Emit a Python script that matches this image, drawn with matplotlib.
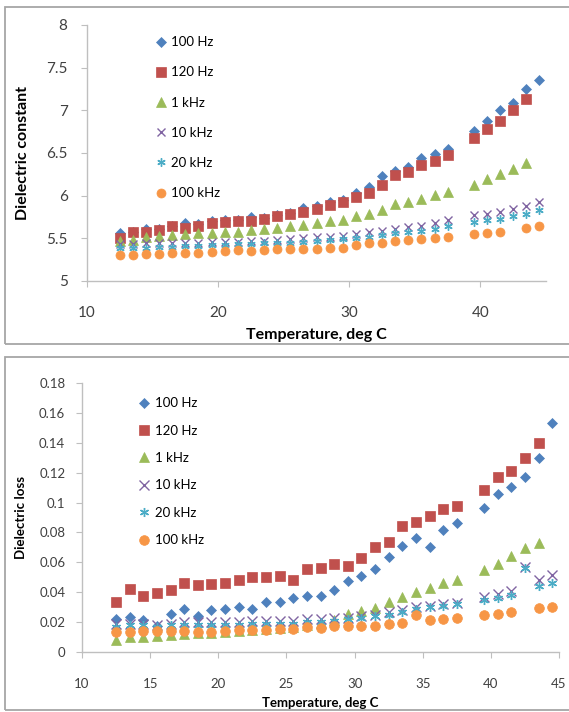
## Dielectric constant and dielectric loss vs temperature at several frequencies
import numpy as np
import matplotlib
matplotlib.use('Agg')
import matplotlib.pyplot as plt
from matplotlib.patches import Rectangle

plt.rcParams['font.family'] = ['Lato', 'DejaVu Sans']

# temperatures (deg C), no reading at 38.5
temps = [12.5, 13.5, 14.5, 15.5, 16.5, 17.5, 18.5, 19.5, 20.5, 21.5, 22.5,
         23.5, 24.5, 25.5, 26.5, 27.5, 28.5, 29.5, 30.5, 31.5, 32.5, 33.5,
         34.5, 35.5, 36.5, 37.5, 39.5, 40.5, 41.5, 42.5, 43.5, 44.5]

labels = ['100 Hz', '120 Hz', '1 kHz', '10 kHz', '20 kHz', '100 kHz']

# dielectric constant
eps_100hz = [5.56, 5.58, 5.61, 5.61, 5.64, 5.68, 5.67, 5.70, 5.71, 5.72, 5.75,
             5.74, 5.77, 5.80, 5.85, 5.88, 5.92, 5.95, 6.03, 6.10, 6.23, 6.29,
             6.34, 6.44, 6.49, 6.55, 6.76, 6.87, 7.00, 7.09, 7.25, 7.36]
eps_120hz = [5.50, 5.58, 5.57, 5.60, 5.64, 5.62, 5.65, 5.68, 5.69, 5.70, 5.70,
             5.73, 5.76, 5.78, 5.81, 5.84, 5.89, 5.92, 5.98, 6.03, 6.12, 6.24,
             6.28, 6.36, 6.41, 6.48, 6.67, 6.78, 6.88, 7.00, 7.13, None]
eps_1khz = [5.47, 5.48, 5.51, 5.53, 5.54, 5.55, 5.56, 5.56, 5.57, 5.58, 5.60,
            5.61, 5.62, 5.64, 5.66, 5.68, 5.70, 5.72, 5.76, 5.79, 5.83, 5.90,
            5.93, 5.96, 6.01, 6.04, 6.13, 6.20, 6.25, 6.31, 6.38, None]
eps_10khz = [5.43, 5.43, 5.44, 5.44, 5.44, 5.45, 5.45, 5.46, 5.46, 5.46, 5.47,
             5.47, 5.48, 5.49, 5.50, 5.51, 5.52, 5.53, 5.55, 5.57, 5.59, 5.61,
             5.63, 5.65, 5.68, 5.71, 5.77, 5.79, 5.81, 5.84, 5.88, 5.93]
eps_20khz = [5.39, 5.39, 5.39, 5.40, 5.40, 5.41, 5.41, 5.42, 5.42, 5.43, 5.43,
             5.44, 5.45, 5.45, 5.46, 5.47, 5.48, 5.49, 5.50, 5.52, 5.54, 5.56,
             5.58, 5.59, 5.61, 5.64, 5.69, 5.71, 5.73, 5.76, 5.79, 5.83]
eps_100khz = [5.30, 5.31, 5.32, 5.32, 5.33, 5.33, 5.33, 5.34, 5.35, 5.36, 5.355,
              5.36, 5.37, 5.38, 5.38, 5.38, 5.39, 5.39, 5.42, 5.44, 5.45, 5.47,
              5.48, 5.49, 5.50, 5.51, 5.55, 5.56, 5.58, None, 5.62, 5.64]

# dielectric loss
loss_100hz = [0.0221, 0.0232, 0.0214, 0.0175, 0.0252, 0.0288, 0.0243, 0.0281,
              0.0286, 0.0303, 0.0290, 0.0337, 0.0337, 0.0361, 0.0375, 0.0375,
              0.0415, 0.0477, 0.0511, 0.0555, 0.0634, 0.0711, 0.0765, 0.0705,
              0.0816, 0.0865, 0.0961, 0.1055, 0.1102, 0.1173, 0.1296, 0.1535]
loss_120hz = [0.0337, 0.0419, 0.0377, 0.0393, 0.0415, 0.0464, 0.0446, 0.0453,
              0.0460, 0.0482, 0.0502, 0.0500, 0.0509, 0.0482, 0.0558, 0.0562,
              0.0589, 0.0578, 0.0629, 0.0705, 0.0734, 0.0845, 0.0872, 0.0912,
              0.0957, 0.0977, 0.1086, 0.1173, 0.1211, 0.1298, 0.1397, None]
loss_1khz = [0.0080, 0.0098, 0.0103, 0.0109, 0.0114, 0.0120, 0.0125, 0.0130,
             0.0136, 0.0140, 0.0147, 0.0154, 0.0160, 0.0170, 0.0180, 0.0195,
             0.0215, 0.0254, 0.0276, 0.0292, 0.0337, 0.0370, 0.0399, 0.0426,
             0.0460, 0.0482, 0.0549, 0.0587, 0.0642, 0.0694, 0.0731, None]
loss_10khz = [0.019, 0.019, 0.019, 0.018, 0.019, 0.020, 0.020, 0.020, 0.020,
              0.020, 0.021, 0.021, 0.021, 0.021, 0.022, 0.022, 0.023, 0.023,
              0.024, 0.025, 0.027, 0.028, 0.030, 0.031, 0.032, 0.033, 0.037,
              0.0385, 0.041, 0.057, 0.048, 0.0515]
loss_20khz = [0.017, 0.018, 0.018, 0.017, 0.018, 0.018, 0.018, 0.018, 0.018,
              0.018, 0.019, 0.019, 0.019, 0.019, 0.020, 0.020, 0.021, 0.022,
              0.023, 0.024, 0.025, 0.027, 0.029, 0.030, 0.031, 0.032, 0.035,
              0.036, 0.038, 0.056, 0.044, 0.046]
loss_100khz = [0.0132, 0.0136, 0.0138, 0.0138, 0.0143, 0.0143, 0.0134, 0.0136,
               0.0140, 0.0145, 0.0145, 0.0145, 0.0154, 0.0156, 0.0165, 0.0158,
               0.0174, 0.0174, 0.0176, 0.0176, 0.0187, 0.0196, 0.0248, 0.0214,
               0.0220, 0.0230, 0.0248, 0.0254, 0.0268, None, 0.0294, 0.0303]

colors = ['#4F81BD', '#C0504D', '#9BBB59', '#8064A2', '#4BACC6', '#F79646']
markers = ['D', 's', '^', 'x', (6, 2, 0), 'o']

def to_arr(v):
    return np.array([np.nan if a is None else a for a in v], dtype=float)

fig = plt.figure(figsize=(5.69, 7.12), dpi=100)

# chart area frames
for (x0, y0, x1, y1) in [(5, 7, 575, 344), (5, 357, 575, 710)]:
    fig.patches.append(Rectangle((x0 / 569, 1 - y1 / 712), (x1 - x0) / 569,
                                 (y1 - y0) / 712, transform=fig.transFigure,
                                 fill=False, edgecolor='#A6A6A6', lw=1.3))

def style(ax, fs, ypad, xpad):
    for s in ['top', 'right']:
        ax.spines[s].set_visible(False)
    for s in ['left', 'bottom']:
        ax.spines[s].set_color('#BFBFBF')
        ax.spines[s].set_linewidth(1.0)
    ax.tick_params(axis='both', direction='out', length=4, color='#BFBFBF',
                   labelcolor='#404040', labelsize=fs)
    ax.tick_params(axis='y', pad=ypad)
    ax.tick_params(axis='x', pad=xpad)

# top: dielectric constant
ax1 = fig.add_axes([87 / 569, 1 - 281 / 712, 459 / 569, 256 / 712])
series1 = [eps_100hz, eps_120hz, eps_1khz, eps_10khz, eps_20khz, eps_100khz]
sizes1 = [5, 6.5, 6.5, 6, 6, 6.5]
for vals, lab, c, m, ms in zip(series1, labels, colors, markers, sizes1):
    ax1.plot(temps, to_arr(vals), ls='none', marker=m, ms=ms, color=c,
             mec=c, mew=1 if m in ('x', (6, 2, 0)) else 0.5, label=lab)
ax1.set_xlim(10, 45)
ax1.set_ylim(5, 8)
ax1.set_xticks([10, 20, 30, 40])
ax1.set_yticks([5, 5.5, 6, 6.5, 7, 7.5, 8])
ax1.set_yticklabels(['5', '5.5', '6', '6.5', '7', '7.5', '8'])
style(ax1, 11, 10, 14)
ax1.set_xlabel('Temperature, deg C', fontsize=11.5, fontweight='bold', labelpad=6)
ax1.set_ylabel('Dielectric constant', fontsize=11.5, fontweight='bold', labelpad=12)
ax1.legend(loc='upper left', bbox_to_anchor=(0.135, 0.982), frameon=False,
           fontsize=9.5, handlelength=0.8, handletextpad=0.4, labelspacing=1.38,
           borderpad=0, numpoints=1)

# bottom: dielectric loss
ax2 = fig.add_axes([82 / 569, 1 - 652 / 712, 477 / 569, 269 / 712])
series2 = [loss_100hz, loss_120hz, loss_1khz, loss_10khz, loss_20khz, loss_100khz]
sizes2 = [5.5, 7, 7, 6.5, 6.5, 7]
for vals, lab, c, m, ms in zip(series2, labels, colors, markers, sizes2):
    ax2.plot(temps, to_arr(vals), ls='none', marker=m, ms=ms, color=c,
             mec=c, mew=1 if m in ('x', (6, 2, 0)) else 0.5, label=lab)
ax2.set_xlim(10, 45)
ax2.set_ylim(0, 0.18)
ax2.set_xticks([10, 15, 20, 25, 30, 35, 40, 45])
ax2.set_yticks([0, 0.02, 0.04, 0.06, 0.08, 0.1, 0.12, 0.14, 0.16, 0.18])
ax2.set_yticklabels(['0', '0.02', '0.04', '0.06', '0.08', '0.1', '0.12',
                     '0.14', '0.16', '0.18'])
style(ax2, 9.5, 8, 15)
ax2.set_xlabel('Temperature, deg C', fontsize=9.5, fontweight='bold', labelpad=5)
ax2.set_ylabel('Dielectric loss', fontsize=9.5, fontweight='bold', labelpad=9)
ax2.legend(loc='upper left', bbox_to_anchor=(0.105, 0.972), frameon=False,
           fontsize=9.5, handlelength=0.8, handletextpad=0.4, labelspacing=1.17,
           borderpad=0, numpoints=1)

fig.savefig('out.png', dpi=100)
